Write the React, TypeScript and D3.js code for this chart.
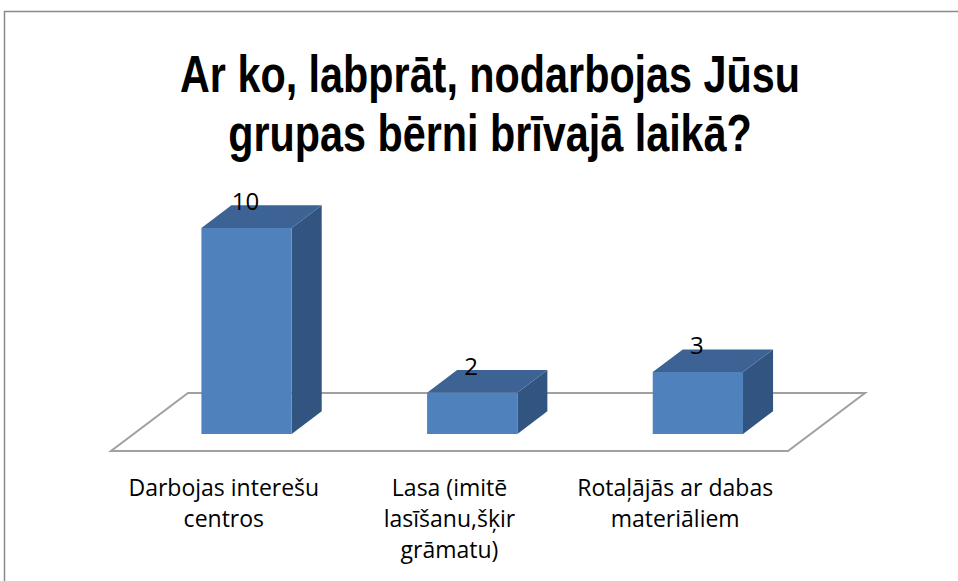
import React, { useLayoutEffect, useRef, useState } from "react";
import * as d3 from "d3";

const titleLines = ["Ar ko, labprāt, nodarbojas Jūsu", "grupas bērni brīvajā laikā?"];
const categories = ["Darbojas interešu centros", "Lasa (imitē lasīšanu,šķir grāmatu)", "Rotaļājās ar dabas materiāliem"];
const categoryLines = [
  ["Darbojas interešu", "centros"],
  ["Lasa (imitē", "lasīšanu,šķir", "grāmatu)"],
  ["Rotaļājās ar dabas", "materiāliem"],
];
const values = [10, 2, 3];

const W = 958;
const H = 581;

function Title({ x, y, width }: { x: number; y: number; width: number }) {
  const ref = useRef<SVGTSpanElement>(null);
  const [sx, setSx] = useState(0.75);
  useLayoutEffect(() => {
    if (ref.current) {
      const n = ref.current.getComputedTextLength();
      if (n > 0) setSx(width / n);
    }
  }, [width]);
  return (
    <text
      transform={`translate(${x},${y}) scale(${sx},1)`}
      textAnchor="middle"
      fontFamily="'Liberation Sans', Arial, sans-serif"
      fontWeight={700}
      fontSize={51}
      fill="#000"
    >
      {titleLines.map((t, i) => (
        <tspan key={i} ref={i === 0 ? ref : undefined} x={0} y={i * 59}>
          {t}
        </tspan>
      ))}
    </text>
  );
}

export default function App() {
  const floorY = 451;
  const x = d3.scaleBand<string>().domain(categories).range([111, 788]);
  const bw = x.bandwidth();
  const depth = { dx: 77, dy: -58 };
  const frontT = 0.295;
  const barDepthT = 0.39;
  const fx = depth.dx * frontT;
  const fy = depth.dy * frontT;
  const bdx = depth.dx * barDepthT;
  const bdy = depth.dy * barDepthT;
  const baseY = floorY + fy;
  const y = d3.scaleLinear().domain([0, 10]).range([baseY, baseY - 206]);
  const barW = bw * 0.4;

  const [x0, x1] = x.range();
  const floorPts: [number, number][] = [
    [x0, floorY],
    [x1, floorY],
    [x1 + depth.dx, floorY + depth.dy],
    [x0 + depth.dx, floorY + depth.dy],
  ];
  const line = d3.line();

  return (
    <svg width={W} height={H} style={{ position: "absolute", left: 0, top: 0, background: "#fff" }}>
      <rect x={4.5} y={11.5} width={W + 20} height={H + 20} fill="none" stroke="#8a8a8a" strokeWidth={1.5} />
      <Title x={490} y={92} width={620} />
      <path d={line(floorPts)! + "Z"} fill="none" stroke="#a0a0a0" strokeWidth={2} />
      {categories.map((c, i) => {
        const cx = (x(c) as number) + bw / 2 + fx;
        const l = cx - barW / 2;
        const r = cx + barW / 2;
        const top = y(values[i]);
        const bottom = y(0);
        const front = [[l, top], [r, top], [r, bottom], [l, bottom]] as [number, number][];
        const topFace = [[l, top], [r, top], [r + bdx, top + bdy], [l + bdx, top + bdy]] as [number, number][];
        const side = [[r, top], [r + bdx, top + bdy], [r + bdx, bottom + bdy], [r, bottom]] as [number, number][];
        return (
          <g key={c}>
            <path d={line(side)! + "Z"} fill="#325480" />
            <path d={line(topFace)! + "Z"} fill="#3c6393" />
            <path d={line(front)! + "Z"} fill="#4f81bd" />
            <text
              x={cx - 1}
              y={top + bdy + 5}
              textAnchor="middle"
              fontFamily="'Open Sans', sans-serif"
              fontSize={24}
              fill="#000"
            >
              {values[i]}
            </text>
          </g>
        );
      })}
      {categories.map((c, i) => (
        <text
          key={c}
          textAnchor="middle"
          fontFamily="'Open Sans', sans-serif"
          fontSize={23}
          fill="#000"
        >
          {categoryLines[i].map((ln, j) => (
            <tspan key={j} x={(x(c) as number) + bw / 2} y={496 + j * 31}>
              {ln}
            </tspan>
          ))}
        </text>
      ))}
    </svg>
  );
}
